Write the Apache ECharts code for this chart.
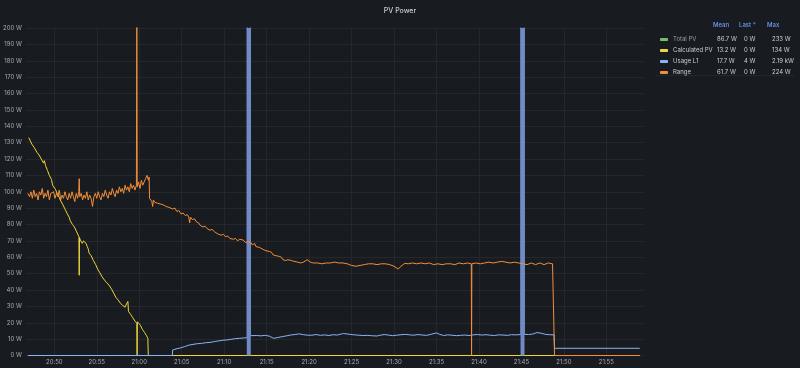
<!DOCTYPE html>
<html>
<head>
<meta charset="utf-8">
<script src="https://cdn.jsdelivr.net/npm/echarts@6/dist/echarts.min.js"></script>
<style>
html,body{margin:0;padding:0;background:#181b1f;}
#chart{width:800px;height:368px;}
</style>
</head>
<body>
<div id="chart"></div>
<script>
// ---- data ----
const xTickLabels = ['20:50','20:55','21:00','21:05','21:10','21:15','21:20','21:25','21:30','21:35','21:40','21:45','21:50','21:55'];
const xRange = ['20:46:53','21:59:05'];

const legendNames = ['Total PV','Calculated PV','Usage L1','Range'];
const legendMean  = ['86.7 W','13.2 W','17.7 W','61.7 W'];
const legendLast  = ['0 W','0 W','4 W','0 W'];
const legendMax   = ['233 W','134 W','2.19 kW','224 W'];

const totalPV = [];  // hidden series in the reference

const calculatedPV = [
['20:47:00',133],['20:47:08',131.5],['20:47:15',132],['20:47:22',129],['20:47:30',129.5],['20:47:38',127],['20:47:45',128],
['20:47:51',126],['20:47:58',124],['20:48:05',125],['20:48:12',122.5],['20:48:20',123],['20:48:28',120],['20:48:38',120.5],
['20:48:44',117.5],['20:48:50',119],['20:48:58',116],['20:49:05',116.5],['20:49:12',113],['20:49:20',112.5],['20:49:25',110],
['20:49:32',109],['20:49:40',107.5],['20:49:48',104],['20:49:55',105],['20:50:00',103],['20:50:08',101.5],['20:50:15',102],
['20:50:22',98.5],['20:50:28',99],['20:50:35',96.5],['20:50:42',95],['20:50:50',95.5],['20:50:58',92.5],['20:51:05',93],
['20:51:10',91.5],['20:51:18',89],['20:51:25',89.5],['20:51:32',86.5],['20:51:40',87],['20:51:45',84.5],['20:51:52',82.5],
['20:52:00',83],['20:52:08',80],['20:52:15',80.5],['20:52:22',78.5],['20:52:31',78],['20:52:38',75.5],['20:52:45',76],
['20:52:54',72.5],['20:52:56',49],['20:52:58',72],['20:53:04',70.5],['20:53:10',71],['20:53:18',68.5],['20:53:26',70],
['20:53:35',69],['20:53:44',68.5],['20:53:53',66.5],['20:54:00',65],['20:54:06',62.5],['20:54:12',63.5],['20:54:20',61],
['20:54:28',60.5],['20:54:36',58],['20:54:45',58.5],['20:54:52',55.5],['20:55:00',55],['20:55:08',52.5],['20:55:15',53],
['20:55:22',50.5],['20:55:30',50],['20:55:38',48],['20:55:46',48.5],['20:55:55',46],['20:56:02',46.5],['20:56:10',44.5],
['20:56:18',45.5],['20:56:26',43],['20:56:37',43.5],['20:56:45',40.5],['20:56:52',40],['20:57:00',38],['20:57:08',38.5],
['20:57:15',35.5],['20:57:22',36],['20:57:30',34],['20:57:38',34.5],['20:57:46',32],['20:57:55',32.5],['20:58:04',30.5],
['20:58:12',31],['20:58:20',29.5],['20:58:30',31.5],['20:58:40',33],['20:58:44',27],['20:58:52',26.5],['20:59:00',25],
['20:59:08',25.5],['20:59:15',23],['20:59:21',23.5],['20:59:30',21],['20:59:38',21.5],['20:59:43',19.7],['20:59:45',0],
['20:59:47',20.6],['20:59:54',21],['21:00:00',19.5],['21:00:08',18.5],['21:00:15',18],['21:00:22',16],['21:00:31',16.5],
['21:00:38',14],['21:00:45',14],['21:00:52',12],['21:01:01',10.5],['21:01:04',0],['21:58:56',0]
];

const usageL1 = [
['20:46:53',0],['21:03:54',0],['21:03:56',3.4],['21:04:20',4],['21:04:50',4.6],['21:05:20',5.4],['21:05:50',6.3],
['21:06:20',6.8],['21:06:50',7.2],['21:07:20',7.4],['21:07:50',7.8],['21:08:20',8],['21:08:50',8.5],
['21:09:20',8.9],['21:09:50',9.3],['21:10:20',9.5],['21:10:50',9.9],['21:11:20',10.3],['21:11:50',10.5],
['21:12:20',10.7],['21:12:43',10.9],['21:12:44',2190],['21:13:04',2190],['21:13:05',12.1],['21:13:50',12.2],
['21:14:20',12],['21:14:50',12.3],['21:15:20',11.8],['21:15:50',10.5],['21:16:20',11],['21:16:50',11.5],
['21:17:20',12],['21:17:50',12.5],['21:18:20',12.8],['21:18:50',13.2],['21:19:20',12.7],['21:19:50',12.4],
['21:20:20',12.4],['21:20:50',12.8],['21:21:20',12.3],['21:21:50',12.6],['21:22:20',12.2],['21:22:50',12.7],
['21:23:20',12.5],['21:23:50',13.2],['21:24:05',13.4],['21:24:50',12.9],['21:25:20',12.6],['21:25:50',12.4],
['21:26:20',12.2],['21:26:50',12.3],['21:27:20',12.1],['21:27:58',11.9],['21:28:20',12.3],['21:28:50',12.8],
['21:29:20',12.5],['21:29:50',12.1],['21:30:20',12.4],['21:30:50',12.7],['21:31:20',12.9],['21:31:50',12.6],
['21:32:20',12.4],['21:32:50',12.8],['21:33:20',12.5],['21:33:50',12.3],['21:34:20',12.9],['21:35:00',13.8],
['21:35:20',13.0],['21:35:50',12.2],['21:36:20',12.6],['21:36:50',12.4],['21:37:20',12.1],['21:37:50',12.3],
['21:38:20',12.5],['21:38:50',12.2],['21:39:20',12.6],['21:39:50',12.8],['21:40:20',12.5],['21:40:50',12.7],
['21:41:20',12.4],['21:41:50',12.2],['21:42:20',12.6],['21:42:50',12.5],['21:43:20',12.3],['21:43:50',12.7],
['21:44:20',12.6],['21:44:57',12.8],['21:44:58',2190],['21:45:19',2190],['21:45:20',13.0],['21:45:50',12.8],
['21:46:20',13.1],['21:46:50',14.0],['21:47:02',14.5],['21:47:20',13.6],['21:47:50',12.9],['21:48:20',12.7],
['21:48:51',12.6],['21:48:54',4.4],['21:58:56',4.4]
];
// filled body of the two short Usage L1 peaks
const usageL1Peaks = [['21:12:54',2190],['21:45:08',2190]];

const range = [
['20:46:53',99],['20:47:05',97],['20:47:15',100],['20:47:25',96],['20:47:35',101],['20:47:45',97],['20:47:55',99],
['20:48:05',95],['20:48:15',100],['20:48:25',98],['20:48:35',102],['20:48:45',96],['20:48:55',99],['20:49:05',97],
['20:49:15',101],['20:49:25',95],['20:49:35',99],['20:49:45',98],['20:49:55',100],['20:50:05',96],['20:50:15',99],
['20:50:25',97],['20:50:35',101],['20:50:45',95],['20:50:55',98],['20:51:05',96],['20:51:15',100],['20:51:25',97],
['20:51:35',95],['20:51:45',99],['20:51:55',96],['20:52:05',100],['20:52:15',97],['20:52:25',94],['20:52:35',99],
['20:52:45',96],['20:52:53',100],['20:52:56',108],['20:53:00',97],['20:53:10',99],['20:53:20',95],['20:53:30',98],
['20:53:40',96],['20:53:50',100],['20:54:00',95],['20:54:10',98],['20:54:20',96],['20:54:30',91],['20:54:40',97],
['20:54:50',99],['20:55:00',96],['20:55:10',100],['20:55:20',97],['20:55:30',95],['20:55:40',99],['20:55:50',97],
['20:56:00',101],['20:56:10',98],['20:56:20',96],['20:56:30',100],['20:56:40',98],['20:56:50',102],['20:57:00',99],
['20:57:10',97],['20:57:20',101],['20:57:30',99],['20:57:40',103],['20:57:50',100],['20:58:00',102],['20:58:10',99],
['20:58:20',104],['20:58:30',101],['20:58:40',103],['20:58:50',100],['20:59:00',105],['20:59:10',102],['20:59:20',104],
['20:59:30',101],['20:59:40',104],['20:59:43',224],['20:59:46',103],['20:59:55',106],['21:00:05',102],['21:00:15',107],
['21:00:25',104],['21:00:35',106],['21:00:45',108],['21:00:55',110],['21:01:05',107],['21:01:10',109],['21:01:13',96],
['21:01:20',95],['21:01:29',94],['21:01:35',91],['21:01:40',95],['21:01:50',93.5],['21:02:00',94.5],['21:02:10',93],
['21:02:20',94],['21:02:30',92.5],['21:02:39',93.5],['21:02:50',92],['21:03:00',92.5],['21:03:10',91],['21:03:20',92],
['21:03:30',90.5],['21:03:40',91],['21:03:55',89.5],['21:04:12',90],['21:04:25',88],['21:04:40',88.5],['21:04:55',86.5],
['21:05:10',87],['21:05:25',85.5],['21:05:40',86],['21:05:50',84.5],['21:05:56',81],['21:06:02',84.5],['21:06:15',83],
['21:06:30',83.5],['21:06:45',81.5],['21:07:00',81],['21:07:10',79.5],['21:07:19',80.5],['21:07:30',78.5],['21:07:45',79],
['21:08:00',77.5],['21:08:10',78],['21:08:20',76.5],['21:08:35',77],['21:08:53',75.5],['21:09:05',76],['21:09:20',74],
['21:09:30',74.5],['21:09:40',73.5],['21:09:55',74],['21:10:10',72.5],['21:10:25',73],['21:10:40',71.5],['21:10:50',72.5],
['21:11:05',71],['21:11:20',71.5],['21:11:35',70],['21:11:50',71],['21:12:00',70],['21:12:15',70.5],['21:12:30',69],
['21:12:47',69.5],['21:13:00',68.5],['21:13:10',69],['21:13:20',67.5],['21:13:35',68.5],['21:13:45',66.5],['21:13:57',67.5],
['21:14:10',66],['21:14:20',66.5],['21:14:30',65],['21:14:43',65.5],['21:14:55',64],['21:15:05',65],['21:15:20',63.5],
['21:15:35',63],['21:15:45',61.5],['21:15:53',62.5],['21:16:05',61],['21:16:15',61.5],['21:16:30',60.5],['21:16:45',60],
['21:16:55',58.5],['21:17:04',59.5],['21:17:15',58],['21:17:30',58.5],['21:17:40',57.5],['21:17:55',58],['21:18:05',57],
['21:18:13',57.5],['21:18:25',56.5],['21:18:40',57],['21:19:00',56.5],['21:19:20',57],
['21:19:47',58.5],['21:20:10',57],['21:20:30',56.5],['21:21:00',56.5],['21:21:30',56],['21:22:00',56.5],['21:22:30',56.5],
['21:23:00',57],['21:23:30',56.5],['21:24:00',56.5],['21:24:30',56],['21:25:00',55],['21:25:30',54.5],['21:26:00',55],
['21:26:30',55.5],['21:27:00',56],['21:27:30',56],['21:28:00',55.5],['21:28:30',56],['21:29:00',56],['21:29:30',55.5],
['21:30:00',54.5],['21:30:29',52.8],['21:30:50',54.5],['21:31:16',56.3],['21:31:40',56],['21:32:10',56.5],['21:32:40',56],
['21:33:10',56.5],['21:33:40',56],['21:34:10',56.5],['21:34:40',55.5],['21:35:10',56],['21:35:40',55.5],['21:36:10',56],
['21:36:40',56],['21:37:10',55.5],['21:37:40',56.5],['21:38:10',56],['21:38:40',56.5],['21:39:06',56],['21:39:08',0],
['21:39:10',56],['21:39:40',56.5],['21:40:10',56],['21:40:40',56.5],['21:41:10',57],['21:41:40',56.5],['21:42:10',57],
['21:42:40',57.5],['21:43:10',57],['21:43:40',56.5],['21:44:10',57],['21:44:40',56.5],['21:45:10',56],['21:45:40',55.5],
['21:46:10',56.5],['21:46:40',55.5],['21:47:10',56.5],['21:47:40',55.5],['21:48:10',56.5],['21:48:40',56],['21:48:51',57],
['21:48:54',0],['21:58:56',0]
];

// ---- helpers ----
function T(s){const p=s.split(':').map(Number);return Date.UTC(2024,0,1,p[0],p[1],p[2]||0);}
const conv = arr => arr.map(d => [T(d[0]), d[1]]);

const colors = {'Total PV':'#73BF69','Calculated PV':'#EDD63A','Usage L1':'#8AB4F8','Range':'#F38F38'};
const FONT = 'Inter';

const chart = echarts.init(document.getElementById('chart'), null, {renderer:'canvas'});

const lineSeries = (name, data, z) => ({
  name, type:'line', data: conv(data), showSymbol:false, symbol:'none',
  lineStyle:{width:1, color:colors[name]}, itemStyle:{color:colors[name]},
  animation:false, z: z
});

const tickVals = xTickLabels.map(s=>T(s+':00'));

const option = {
  backgroundColor:'#181b1f',
  useUTC:true,
  animation:false,
  title:{text:'PV Power', left:'center', top:2,
    textStyle:{color:'#ccccdc', fontSize:7, fontWeight:500, fontFamily:FONT}},
  grid:{left:25, right:157, top:28, bottom:12.5, containLabel:false},
  xAxis:{
    type:'time', min:T(xRange[0]), max:T(xRange[1]),
    axisLine:{show:false}, axisTick:{show:false, customValues: tickVals},
    splitLine:{show:true, lineStyle:{color:'#25272c', width:1}},
    axisLabel:{customValues: tickVals, formatter:'{HH}:{mm}',
      color:'#a9a9b8', fontSize:6, fontFamily:FONT, margin:4}
  },
  yAxis:{
    type:'value', min:0, max:200, interval:10,
    axisLine:{show:false}, axisTick:{show:false},
    splitLine:{lineStyle:{color:'#25272c', width:1}},
    axisLabel:{formatter:'{value} W', color:'#a9a9b8', fontSize:6, fontFamily:FONT, margin:4}
  },
  legend:{
    orient:'vertical', left:655, top:29, itemWidth:8, itemHeight:3, itemGap:0, icon:'roundRect',
    data: legendNames,
    selectedMode:false,
    textStyle:{color:'#ccccdc', fontSize:6, fontFamily:FONT, lineHeight:11,
      rich:{
        n:{width:44, color:'#ccccdc', fontSize:6, fontFamily:FONT, lineHeight:11},
        d:{width:44, color:'#9a9aa8', fontSize:6, fontFamily:FONT, lineHeight:11},
        a:{width:27, color:'#ccccdc', fontSize:6, fontFamily:FONT, lineHeight:11},
        b:{width:28, color:'#ccccdc', fontSize:6, fontFamily:FONT, lineHeight:11},
        c:{width:30, color:'#ccccdc', fontSize:6, fontFamily:FONT, lineHeight:11}
      }},
    formatter: name => {
      const i = legendNames.indexOf(name);
      const nk = i===0 ? 'd' : 'n';
      return `{${nk}|${name}}{a|${legendMean[i]}}{b|${legendLast[i]}}{c|${legendMax[i]}}`;
    }
  },
  graphic:[
    {type:'text', left:713, top:22, style:{text:'Mean', fill:'#6e9fff', font:`500 6px ${FONT}`}},
    {type:'text', left:739, top:22, style:{text:'Last *', fill:'#6e9fff', font:`500 6px ${FONT}`}},
    {type:'text', left:767, top:22, style:{text:'Max', fill:'#6e9fff', font:`500 6px ${FONT}`}},
    {type:'line', shape:{x1:655, y1:75.5, x2:794, y2:75.5}, style:{stroke:'#23262b', lineWidth:1}}
  ],
  series:[
    lineSeries('Total PV', totalPV, 3),
    lineSeries('Calculated PV', calculatedPV, 3),
    lineSeries('Usage L1', usageL1, 3),
    {name:'Usage L1 peak', type:'bar', data:conv(usageL1Peaks), barWidth:4,
      itemStyle:{color:'#6f8ac4'}, animation:false, z:4, legendHoverLink:false},
    lineSeries('Range', range, 5)
  ]
};
chart.setOption(option);
</script>
</body>
</html>
